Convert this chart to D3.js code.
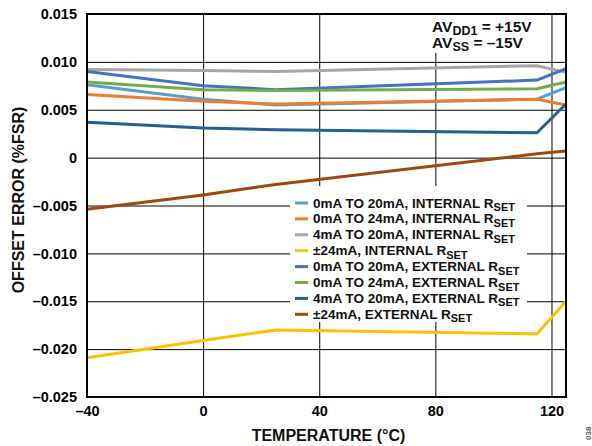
<!DOCTYPE html>
<html><head><meta charset="utf-8">
<script src="https://cdn.jsdelivr.net/npm/d3@7"></script>
<style>body{margin:0;background:#fff}svg{display:block}text{font-family:"Liberation Sans",Arial,sans-serif;font-weight:bold}</style>
</head><body>
<svg id="c" width="592" height="446"></svg>
<script>
const temps = [-40, 0, 25, 115, 125];
const seriesNames = ["0mA TO 20mA, INTERNAL ", "0mA TO 24mA, INTERNAL ", "4mA TO 20mA, INTERNAL ", "±24mA, INTERNAL ",
  "0mA TO 20mA, EXTERNAL ", "0mA TO 24mA, EXTERNAL ", "4mA TO 20mA, EXTERNAL ", "±24mA, EXTERNAL "];
const seriesColors = ["#5B9BD5", "#ED7D31", "#A5A5A5", "#FFC000", "#4472C4", "#70AD47", "#255E91", "#9E480E"];
const int0to20 = [0.0076, 0.0061, 0.0055, 0.0061, 0.0073];
const int0to24 = [0.0066, 0.0059, 0.0056, 0.0061, 0.0055];
const int4to20 = [0.0092, 0.0091, 0.0090, 0.0096, 0.0089];
const intPM24 = [-0.0209, -0.0191, -0.0180, -0.0184, -0.0150];
const ext0to20 = [0.0090, 0.0075, 0.0071, 0.0081, 0.0093];
const ext0to24 = [0.0079, 0.0071, 0.0070, 0.0072, 0.0079];
const ext4to20 = [0.0037, 0.0031, 0.0029, 0.0026, 0.0056];
const extPM24 = [-0.0054, -0.0039, -0.0028, 0.0004, 0.0007];
const seriesValues = [int0to20, int0to24, int4to20, intPM24, ext0to20, ext0to24, ext4to20, extPM24];
const xTicks = [-40, 0, 40, 80, 120];
const xTickLabels = ["–40", "0", "40", "80", "120"];
const yTicks = [-0.025, -0.020, -0.015, -0.010, -0.005, 0, 0.005, 0.010, 0.015];
const yTickLabels = ["–0.025", "–0.020", "–0.015", "–0.010", "–0.005", "0", "0.005", "0.010", "0.015"];

const L = 87, R = 566, T = 14, B = 397;
const svg = d3.select("#c");
const x = d3.scaleLinear().domain([-40, 125]).range([L, R]);
const y = d3.scaleLinear().domain([-0.025, 0.015]).range([B, T]);

// gridlines
const gx = svg.append("g").attr("transform", `translate(0,${B})`)
  .call(d3.axisBottom(x).tickValues(xTicks).tickSize(-(B - T)).tickFormat(""));
gx.select(".domain").remove();
gx.selectAll("line").attr("stroke", "#000").attr("stroke-width", 1);
const gy = svg.append("g").attr("transform", `translate(${L},0)`)
  .call(d3.axisLeft(y).tickValues(yTicks).tickSize(-(R - L)).tickFormat(""));
gy.select(".domain").remove();
gy.selectAll("line").attr("stroke", "#000").attr("stroke-width", 1);

// tick labels
const xl = svg.append("g").attr("transform", `translate(0,${B})`)
  .call(d3.axisBottom(x).tickValues(xTicks).tickSize(0).tickPadding(9).tickFormat((d, i) => xTickLabels[i]));
xl.select(".domain").remove();
xl.selectAll("text").attr("font-size", 14.5).attr("font-family", "Liberation Sans, Arial").attr("font-weight", "bold").attr("fill", "#000");
const yl = svg.append("g").attr("transform", `translate(${L},0)`)
  .call(d3.axisLeft(y).tickValues(yTicks).tickSize(0).tickPadding(10).tickFormat((d, i) => yTickLabels[i]));
yl.select(".domain").remove();
yl.selectAll("text").attr("font-size", 14.5).attr("font-family", "Liberation Sans, Arial").attr("font-weight", "bold").attr("fill", "#000");

// annotation box
svg.append("rect").attr("x", 428).attr("y", T + 1).attr("width", 114).attr("height", 38).attr("fill", "#fff");

// series
const line = d3.line().x((d, i) => x(temps[i])).y(d => y(d));
seriesValues.forEach((vals, k) => {
  svg.append("path").datum(vals).attr("d", line).attr("fill", "none")
    .attr("stroke", seriesColors[k]).attr("stroke-width", 3).attr("stroke-linejoin", "round");
});

// legend
const lg = svg.append("g");
lg.append("rect").attr("x", 290).attr("y", 186).attr("width", 237).attr("height", 136).attr("fill", "#fff");
seriesNames.forEach((n, i) => {
  const cy = 203 + i * 15.9;
  lg.append("line").attr("x1", 295).attr("x2", 308).attr("y1", cy).attr("y2", cy)
    .attr("stroke", seriesColors[i]).attr("stroke-width", 3);
  const t = lg.append("text").attr("x", 313).attr("y", cy + 4.5).attr("font-size", 13.5).attr("fill", "#111");
  t.append("tspan").text(n + "R");
  t.append("tspan").attr("font-size", 11).attr("dy", 3.5).text("SET");
});

// frame
svg.append("rect").attr("x", L).attr("y", T).attr("width", R - L).attr("height", B - T)
  .attr("fill", "none").attr("stroke", "#000").attr("stroke-width", 2);

// annotation
const a1 = svg.append("text").attr("x", 432).attr("y", 32).attr("font-size", 15.5).attr("fill", "#111");
a1.append("tspan").text("AV");
a1.append("tspan").attr("font-size", 12.5).attr("dy", 3).text("DD1");
a1.append("tspan").attr("dy", -3).text(" = +15V");
const a2 = svg.append("text").attr("x", 432).attr("y", 47.5).attr("font-size", 15.5).attr("fill", "#111");
a2.append("tspan").text("AV");
a2.append("tspan").attr("font-size", 12.5).attr("dy", 3).text("SS");
a2.append("tspan").attr("dy", -3).text(" = –15V");

// axis titles
svg.append("text").attr("x", (L + R) / 2 + 2).attr("y", 441).attr("text-anchor", "middle")
  .attr("font-size", 16).attr("fill", "#111").text("TEMPERATURE (°C)");
svg.append("text").attr("transform", "translate(24,200) rotate(-90)").attr("text-anchor", "middle")
  .attr("font-size", 16).attr("fill", "#111").text("OFFSET ERROR (%FSR)");
svg.append("text").attr("transform", "translate(591,440) rotate(-90)").attr("text-anchor", "start")
  .attr("font-size", 8).attr("font-weight", "normal").attr("fill", "#666").text("038");
</script>
</body></html>
